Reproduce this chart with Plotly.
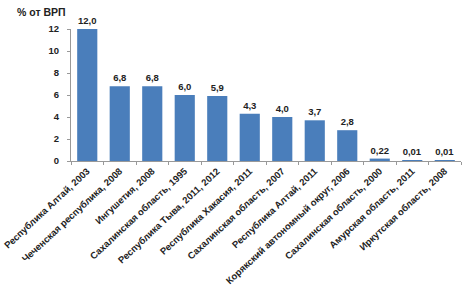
import plotly.graph_objects as go

categories = [
    "Республика Алтай, 2003",
    "Чеченская республика, 2008",
    "Ингушетия, 2008",
    "Сахалинская область, 1995",
    "Республика Тыва, 2011, 2012",
    "Республика Хакасия, 2011",
    "Сахалинская область, 2007",
    "Республика Алтай, 2011",
    "Корякский автономный округ, 2006",
    "Сахалинская область, 2000",
    "Амурская область, 2011",
    "Иркутская область, 2008",
]
values = [12.0, 6.8, 6.8, 6.0, 5.9, 4.3, 4.0, 3.7, 2.8, 0.22, 0.01, 0.01]
value_labels = ["12,0", "6,8", "6,8", "6,0", "5,9", "4,3", "4,0", "3,7", "2,8", "0,22", "0,01", "0,01"]
y_ticks = [0, 2, 4, 6, 8, 10, 12]

FONT = "Liberation Sans, Arial, sans-serif"

fig = go.Figure(go.Bar(
    x=categories, y=values, text=value_labels, textposition="outside",
    textfont=dict(size=9.5, color="#222", family=FONT, weight="bold"),
    marker=dict(color="#4a7ebb", line=dict(width=0)),
    width=0.62, cliponaxis=False,
))

fig.update_layout(
    width=472, height=286,
    margin=dict(l=71, r=11, t=29, b=125),
    paper_bgcolor="white", plot_bgcolor="white",
    font=dict(family=FONT, size=9, color="#222", weight="bold"),
    showlegend=False,
    annotations=[dict(text="% от ВРП", xref="paper", yref="paper", x=-0.144, y=1.13,
                      xanchor="left", yanchor="middle", showarrow=False,
                      font=dict(size=10.5, family=FONT, color="#222", weight="bold"))],
)
fig.update_xaxes(
    type="category", tickangle=-43, showline=True, linecolor="#999", linewidth=1,
    ticks="outside", tickson="boundaries", ticklen=3, tickcolor="#999",
    showgrid=False, tickfont=dict(size=9.5, family=FONT, weight="bold"),
    automargin=False,
)
fig.update_yaxes(
    range=[0, 12], tickvals=y_ticks, showline=True, linecolor="#999", linewidth=1,
    ticks="outside", ticklen=3, tickcolor="#999", showgrid=False, zeroline=False,
    tickfont=dict(size=9.5, family=FONT, weight="bold"), ticklabelstandoff=6,
    automargin=False,
)

fig.write_html(
    "out.html",
    config={"displayModeBar": False},
    post_script="document.body.style.margin='0';document.body.style.overflow='hidden';",
)
